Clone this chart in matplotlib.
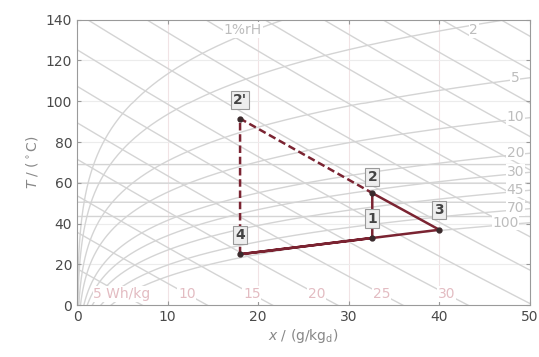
import numpy as np
import matplotlib
matplotlib.use("Agg")
import matplotlib.pyplot as plt

# ---------------- data ----------------
p_tot = 101.325  # kPa
rh_levels = [1, 2, 5, 10, 20, 30, 45, 70, 100]          # % relative humidity
rh_labels = ["1%rH", "2", "5", "10", "20", "30", "45", "70", "100"]
h_wh_levels = [5, 10, 15, 20, 25, 30, 35, 40, 45, 50, 55, 60, 65, 70, 75]  # Wh/kg
h_wh_labels = ["5 Wh/kg", "10", "15", "20", "25", "30"]

state_names = ["1", "2", "3", "4", "2'"]
state_x = [32.6, 32.6, 40.0, 18.0, 18.0]      # g/kg_d
state_T = [33.0, 55.0, 37.0, 25.0, 91.5]      # degC

solid_path = ["4", "1", "2", "3", "4"]
dashed_path = ["4", "2'", "2"]

xticks = [0, 10, 20, 30, 40, 50]
yticks = [0, 20, 40, 60, 80, 100, 120, 140]


def psat(T):
    T = np.asarray(T, float)
    lo = 10 ** (8.07131 - 1730.63 / (233.426 + T))
    hi = 10 ** (8.14019 - 1810.94 / (244.485 + T))
    mm = np.where(T < 99, lo, hi)
    return mm * 0.133322  # kPa


def x_of_T(phi, T):
    pw = phi * psat(T)
    return 622.0 * pw / (p_tot - pw)


def T_of_h(h, x):
    return (h - 2.501 * x) / (1.006 + 0.00186 * x)


fig = plt.figure(figsize=(5.39, 3.57), dpi=100)
ax = fig.add_axes([0.143, 0.145, 0.84, 0.80])
ax.set_xlim(0, 50)
ax.set_ylim(0, 140)

grid_c = "#f1e3e5"
for v in xticks[1:-1]:
    ax.axvline(v, color=grid_c, lw=0.8, zorder=0)
for v in yticks[1:-1]:
    ax.axhline(v, color="#ececec", lw=0.8, zorder=0)

line_c = "#d4d4d4"
Ts = np.linspace(0, 140, 600)
for rh in rh_levels:
    xs = x_of_T(rh / 100, Ts)
    ok = xs < 60
    ax.plot(xs[ok], Ts[ok], color=line_c, lw=1.0, zorder=1)

xx = np.linspace(0, 50, 200)
for h in h_wh_levels:
    ax.plot(xx, T_of_h(3.6 * h, xx), color=line_c, lw=1.0, zorder=1)

lab_c = "#bdbdbd"
bbox_w = dict(boxstyle="square,pad=0.05", fc="white", ec="none")
# RH labels
Tg = np.linspace(0, 140, 5000)
for rh, txt in zip(rh_levels, rh_labels):
    if rh == 1:
        xl, Tl = 18.3, 135.0
    elif rh == 2:
        xl, Tl = 43.8, 135.0
    else:
        xl = 47.3 if rh == 100 else 48.4
        Tl = Tg[np.argmin(np.abs(x_of_T(rh / 100, Tg) - xl))] + 1.0
    ax.text(xl, Tl, txt, color=lab_c, fontsize=10, ha="center", va="center",
            bbox=bbox_w, zorder=2)
# enthalpy labels
pink_t = "#e3bcc2"
for h, t in zip(h_wh_levels, h_wh_labels):
    Tl = 5.5
    xl = (3.6 * h - 1.006 * Tl) / (2.501 + 0.00186 * Tl)
    ax.text(xl, Tl, t, color=pink_t, fontsize=10, ha="center", va="center",
            bbox=bbox_w, zorder=2)

# process lines
pc = "#7b2432"
idx = {n: i for i, n in enumerate(state_names)}
ax.plot([state_x[idx[n]] for n in solid_path], [state_T[idx[n]] for n in solid_path],
        color=pc, lw=1.8, zorder=4)
ax.plot([state_x[idx[n]] for n in dashed_path], [state_T[idx[n]] for n in dashed_path],
        color=pc, lw=1.8, ls=(0, (3, 1.5)), zorder=4)
ax.plot(state_x, state_T, "o", color="#3a2a2c", ms=3.5, zorder=5)

box = dict(boxstyle="square,pad=0.15", fc="#eeeeee", ec="#9a9a9a", lw=0.8)
offs = {"1": 9.5, "2": 8, "3": 9.5, "4": 9.5, "2'": 9}
for n, x, T in zip(state_names, state_x, state_T):
    ax.text(x, T + offs[n], n, fontsize=10, fontweight="bold", color="#444444",
            ha="center", va="center", bbox=box, zorder=6)

for s in ax.spines.values():
    s.set_color("#9a9a9a")
ax.set_xticks(xticks)
ax.set_yticks(yticks)
ax.tick_params(direction="in", colors="#9a9a9a", labelcolor="#4a4a4a", labelsize=10,
               top=True, right=True, length=3)
ax.set_xlabel(r"$x$ / (g/kg$_\mathrm{d}$)", color="#888888", fontsize=10, labelpad=2)
ax.set_ylabel(r"$T$ / ($^\circ$C)", color="#888888", fontsize=10, labelpad=4)

fig.savefig("out.png", dpi=100)
